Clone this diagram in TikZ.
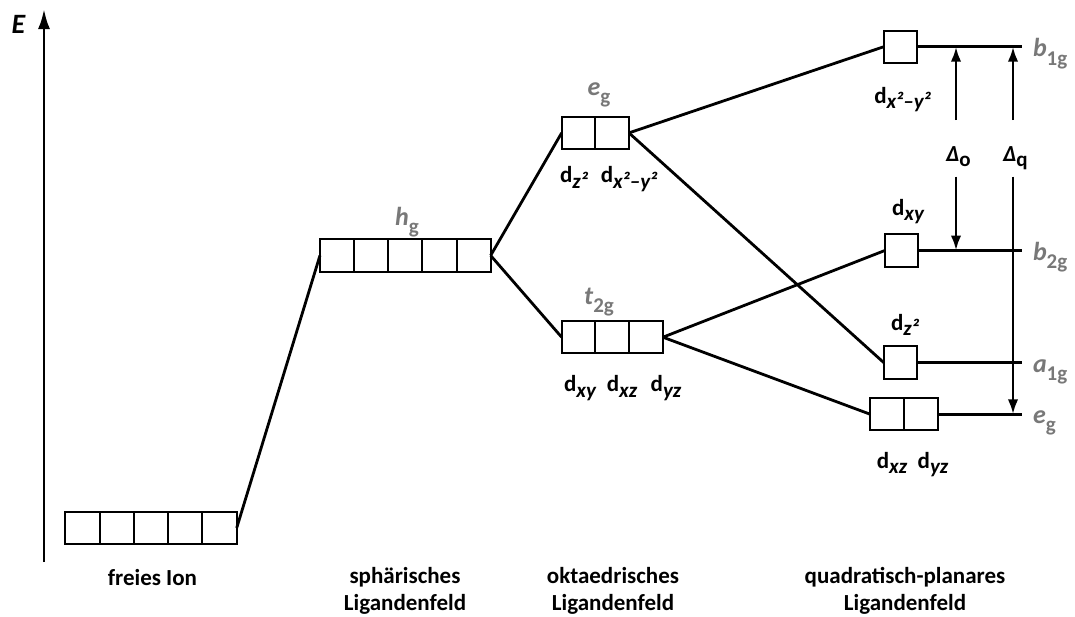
\documentclass[tikz,border=0pt]{standalone}
\usepackage{fontspec}
\setmainfont{Carlito}
\usetikzlibrary{arrows.meta,calc}
\definecolor{lvlgray}{RGB}{120,120,120}
\newcommand{\lvsub}[1]{\raisebox{-8.5pt}{\fontsize{21}{21}\selectfont\bfseries #1}}
\newcommand{\dlsub}[1]{\raisebox{-5.5pt}{\fontsize{21}{21}\selectfont\bfseries\itshape #1}}
\newcommand{\dosub}[1]{\raisebox{-5pt}{\fontsize{21}{21}\selectfont\bfseries #1}}
\begin{document}
\begin{tikzpicture}[x=1pt,y=-1pt,
  every node/.style={inner sep=0pt, outer sep=0pt},
  lab/.style={font=\fontsize{23}{26.5}\selectfont\bfseries, anchor=base},
  lvl/.style={font=\fontsize{26}{26}\selectfont\bfseries, text=lvlgray, anchor=base west},
  orb/.style={draw, line width=2pt, fill=white, minimum height=32.3pt, minimum width=#1},
  conn/.style={line width=2.8pt},
  arr/.style={line width=2.8pt, -{Latex[length=15pt,width=10.5pt]}},
  axisarr/.style={line width=2.8pt, -{Latex[length=20pt,width=12pt]}},
]
\useasboundingbox (0,0) rectangle (1075,616);

% axis
\coordinate (ax0) at (44,562);
\coordinate (ax1) at (44,9);
\draw[axisarr] (ax0) -- (ax1);
\node[anchor=base west, font=\fontsize{28}{28}\selectfont\bfseries\itshape] (E) at (11.5,33.3) {E};

% orbital groups
\node[orb=171.4pt] (free) at (151,527.9) {};
\node[orb=170.7pt] (sph)  at (405.3,255.5) {};
\node[orb=67.3pt]  (oeg)  at (595.3,132.9) {};
\node[orb=101.3pt] (ot2g) at (612.3,337.2) {};
\node[orb=33.3pt]  (qb1g) at (900.5,46.7) {};
\node[orb=33.3pt]  (qb2g) at (901.5,250.5) {};
\node[orb=33.3pt]  (qa1g) at (900.3,362.5) {};
\node[orb=67.7pt]  (qeg)  at (904.2,414.3) {};

% dividers
\foreach \g/\n in {free/5, sph/5, oeg/2, ot2g/3, qeg/2}{
  \pgfmathtruncatemacro{\m}{\n-1}
  \foreach \k in {1,...,\m}{
    \draw[line width=2pt] ($(\g.north west)!\k/\n!(\g.north east)$) -- ($(\g.south west)!\k/\n!(\g.south east)$);
  }
}

% connectors
\draw[conn] (free.east) -- (sph.west);
\draw[conn] (sph.east) -- (oeg.west);
\draw[conn] (sph.east) -- (ot2g.west);
\draw[conn] (oeg.east) -- (qb1g.west);
\draw[conn] (oeg.east) -- (qa1g.west);
\draw[conn] (ot2g.east) -- (qb2g.west);
\draw[conn] (ot2g.east) -- (qeg.west);

% level lines
\coordinate (lend) at (1022,0);
\draw[conn] (qb1g.east) -- (qb1g.east -| lend);
\draw[conn] (qb2g.east) -- (qb2g.east -| lend);
\draw[conn] (qa1g.east) -- (qa1g.east -| lend);
\draw[conn] (qeg.east) -- (qeg.east -| lend);

% Delta arrows
\coordinate (dot) at (956,120);
\coordinate (dob) at (956,176.7);
\coordinate (dqt) at (1013,120);
\coordinate (dqb) at (1013,176.7);
\draw[arr] (dot) -- (dot |- qb1g.east);
\draw[arr] (dob) -- (dob |- qb2g.east);
\draw[arr] (dqt) -- (dqt |- qb1g.east);
\draw[arr] (dqb) -- (dqb |- qeg.east);
\node[anchor=base west, font=\fontsize{23}{24}\selectfont\bfseries] (DO) at (946,161.7) {\textit{Δ}\dosub{o}};
\node[anchor=base west, font=\fontsize{23}{24}\selectfont\bfseries] (DQ) at (1003,161.7) {\textit{Δ}\dosub{q}};

% gray level labels
\node[lvl] (Lb1g) at (1033,56.5) {\textit{b}\lvsub{1g}};
\node[lvl] (Lb2g) at (1033,260.3) {\textit{b}\lvsub{2g}};
\node[lvl] (La1g) at (1033,372.3) {\textit{a}\lvsub{1g}};
\node[lvl] (Leg)  at (1033,423) {\textit{e}\lvsub{g}};
\node[lvl, anchor=base] (Lhg)  at (407,225) {\textit{h}\lvsub{g}};
\node[lvl, anchor=base] (Loeg) at (599,95) {\textit{e}\lvsub{g}};
\node[lvl, anchor=base] (Lt2g) at (599,304) {\textit{t}\lvsub{2g}};

% d-orbital labels
\node[lab] (o1) at (574,182.7) {d\dlsub{z²}};
\node[lab] (o2) at (629,182.7) {d\dlsub{x²–y²}};
\node[lab] (o3) at (580,391.7) {d\dlsub{xy}};
\node[lab] (o4) at (622,391.7) {d\dlsub{xz}};
\node[lab] (o5) at (666,391.7) {d\dlsub{yz}};
\node[lab] (q1) at (902.5,103.3) {d\dlsub{x²–y²}};
\node[lab] (q2) at (908,215) {d\dlsub{xy}};
\node[lab] (q3) at (905,330) {d\dlsub{z²}};
\node[lab] (q4) at (892,468) {d\dlsub{xz}};
\node[lab] (q5) at (933,468) {d\dlsub{yz}};

% bottom labels
\node[lab] (t1) at (152.5,585) {freies Ion};
\node[lab, align=center] (t2) at (405,610) {sphärisches\\Ligandenfeld};
\node[lab, align=center] (t3) at (613,610) {oktaedrisches\\Ligandenfeld};
\node[lab, align=center] (t4) at (905,610) {quadratisch-planares\\Ligandenfeld};
\end{tikzpicture}
\end{document}
